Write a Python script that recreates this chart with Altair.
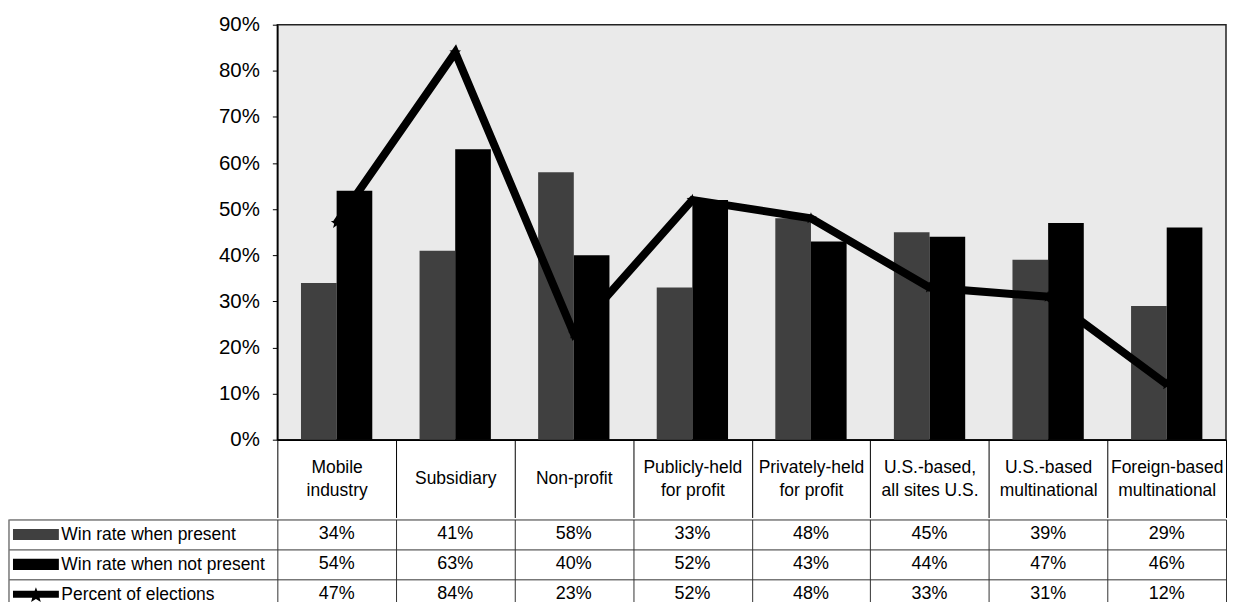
import math
import altair as alt
import pandas as pd

FONT = "Liberation Sans"

categories = [
    "Mobile\nindustry", "Subsidiary", "Non-profit", "Publicly-held\nfor profit",
    "Privately-held\nfor profit", "U.S.-based,\nall sites U.S.", "U.S.-based\nmultinational",
    "Foreign-based\nmultinational",
]
series = ["Win rate when present", "Win rate when not present", "Percent of elections"]
present = [34, 41, 58, 33, 48, 45, 39, 29]
not_present = [54, 63, 40, 52, 43, 44, 47, 46]
percent_elections = [47, 84, 23, 52, 48, 33, 31, 12]
y_ticks = [0, 10, 20, 30, 40, 50, 60, 70, 80, 90]

series_values = [present, not_present, percent_elections]
colors = ["#404040", "#000000", "#000000"]

PLOT_W = 951
PLOT_H = 416
LEFT_COL = 269

# ---- data tables built from the arrays ----
bar_df = pd.DataFrame(
    [{"category": c, "series": s, "value": v / 100}
     for s, vals in zip(series[:2], series_values[:2])
     for c, v in zip(categories, vals)]
)
line_df = pd.DataFrame(
    {"category": categories, "series": series[2], "value": [v / 100 for v in percent_elections]}
)
table_df = pd.DataFrame(
    [{"category": c, "series": s, "label": f"{v}%"}
     for s, vals in zip(series, series_values)
     for c, v in zip(categories, vals)]
)


def star_path(R, r, cx=0.0, cy=0.0):
    pts = []
    for i in range(10):
        ang = -math.pi / 2 + i * math.pi / 5
        rad = R if i % 2 == 0 else r
        pts.append((cx + rad * math.cos(ang), cy + rad * math.sin(ang)))
    return "M" + "L".join(f"{x:.3f},{y:.3f}" for x, y in pts) + "Z"


STAR = star_path(1.0, 0.42)
RECT_SWATCH = "M-1,-0.24H1V0.24H-1Z"
LINE_SWATCH = "M-1,-0.15H1V0.15H-1Z" + star_path(0.36, 0.15, 0, 0.05)

color_scale = alt.Scale(domain=series, range=colors)

# two-line headers -> [line1, blank, line2]; one-line headers -> [blank, text]
NB = "\u200b"
HEADER_EXPR = (
    "indexof(datum.label, '\\n') >= 0 ? "
    f"[split(datum.label, '\\n')[0], '{NB}', split(datum.label, '\\n')[1]] : ['{NB}', datum.label]"
)

x_top = alt.X(
    "category:N",
    sort=categories,
    scale=alt.Scale(domain=categories, paddingInner=0, paddingOuter=0),
    axis=alt.Axis(
        title=None, labelExpr=HEADER_EXPR, tickBand="extent",
        tickSize=78, tickColor="black", tickWidth=1, domainColor="black", domainWidth=1.5,
        labelPadding=-50.5, labelBaseline="middle", labelLineHeight=11.5,
        labelFontSize=17.5, labelColor="black",
        labelFont=FONT, labelAngle=0, labelOverlap=False, labelLimit=200,
    ),
)
y_top = alt.Y(
    "value:Q",
    scale=alt.Scale(domain=[0, 0.9], nice=False, zero=True),
    axis=alt.Axis(
        title=None, values=[t / 100 for t in y_ticks], format=".0%", grid=False,
        tickSize=5, tickColor="black", domainColor="black", domainWidth=1.5,
        labelFontSize=20.5, labelColor="black", labelFont=FONT, labelPadding=13,
    ),
)

bars = alt.Chart(bar_df).mark_bar().encode(
    x=x_top,
    xOffset=alt.XOffset(
        "series:N", sort=series[:2],
        scale=alt.Scale(domain=series[:2], paddingInner=0, paddingOuter=0.663),
    ),
    y=y_top,
    color=alt.Color("series:N", scale=color_scale, legend=None),
)

line = alt.Chart(line_df).mark_line(
    color="black", strokeWidth=8, strokeJoin="miter"
).encode(x=x_top, y=y_top)

stars = alt.Chart(line_df).mark_point(
    shape=STAR, size=150, filled=True, color="black", opacity=1
).encode(x=x_top, y=y_top)

top = alt.layer(bars, line, stars).properties(
    width=PLOT_W, height=PLOT_H,
    view=alt.ViewBackground(fill="#eaeaea", stroke="#222222", strokeWidth=1.5),
)

# ---- data table under the plot ----
x_tab = alt.X(
    "category:N", sort=categories,
    scale=alt.Scale(domain=categories, paddingInner=0, paddingOuter=0),
    axis=alt.Axis(title=None, labels=False, ticks=False, domain=False, grid=True,
                  tickBand="extent", gridColor="#333333", gridWidth=1),
)
y_tab = alt.Y(
    "series:N", sort=series,
    scale=alt.Scale(domain=series, paddingInner=0, paddingOuter=0),
    axis=alt.Axis(
        title=None, tickBand="extent", tickSize=LEFT_COL, tickColor="#333333", tickWidth=1,
        domain=False, grid=True, gridColor="#333333", gridWidth=1,
        labelAlign="left", labelBaseline="middle", labelPadding=-52,
        labelFontSize=17.5, labelFont=FONT, labelColor="black", labelLimit=300,
    ),
)

cells = alt.Chart(table_df).mark_text(
    fontSize=18, font=FONT, color="black", align="center", baseline="middle"
).encode(x=x_tab, y=y_tab, text="label:N")

swatches = alt.Chart(pd.DataFrame({"series": series})).mark_point(
    filled=True, size=2116, opacity=1, strokeWidth=0
).encode(
    x=alt.value(-242),
    y=y_tab,
    shape=alt.Shape("series:N", scale=alt.Scale(domain=series,
                    range=[RECT_SWATCH, RECT_SWATCH, LINE_SWATCH]), legend=None),
    color=alt.Color("series:N", scale=color_scale, legend=None),
)

left_border = alt.Chart(pd.DataFrame({"series": series[:1]})).mark_rule(
    color="#333333", strokeWidth=1
).encode(x=alt.value(-LEFT_COL))

table = alt.layer(cells, swatches, left_border).properties(
    width=PLOT_W, height=90,
    view=alt.ViewBackground(fill="white", stroke=None),
)

chart = (
    alt.vconcat(top, table, spacing=-12)
    .resolve_scale(x="independent", y="independent", color="independent", shape="independent")
    .properties(padding={"left": 0, "top": 5, "right": 0, "bottom": 0}, background="white")
    .configure(font=FONT)
)

chart.save("out.html", embed_options={"renderer": "svg", "actions": False})
